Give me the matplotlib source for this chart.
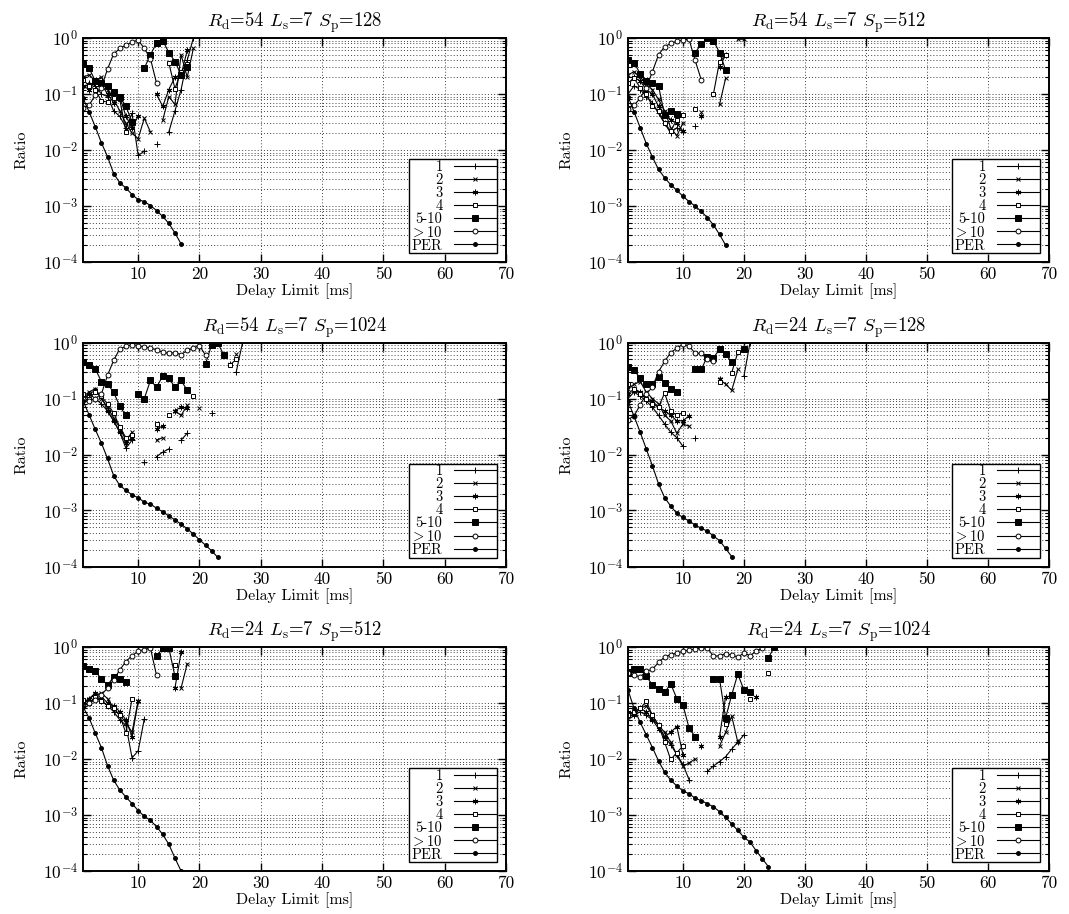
import numpy as np
import matplotlib
matplotlib.use("Agg")
import matplotlib.pyplot as plt

plt.rcParams['font.family'] = 'serif'
plt.rcParams['font.serif'] = ['cmr10']
plt.rcParams['mathtext.fontset'] = 'cm'
plt.rcParams['axes.formatter.use_mathtext'] = True
plt.rcParams['axes.unicode_minus'] = False

N = None

SERIES_LABELS = ["1", "2", "3", "4", "5-10", r"$>$10", "PER"]

TITLES = [
    r"$R_{\mathrm{d}}$=54 $L_{\mathrm{s}}$=7 $S_{\mathrm{p}}$=128",
    r"$R_{\mathrm{d}}$=54 $L_{\mathrm{s}}$=7 $S_{\mathrm{p}}$=512",
    r"$R_{\mathrm{d}}$=54 $L_{\mathrm{s}}$=7 $S_{\mathrm{p}}$=1024",
    r"$R_{\mathrm{d}}$=24 $L_{\mathrm{s}}$=7 $S_{\mathrm{p}}$=128",
    r"$R_{\mathrm{d}}$=24 $L_{\mathrm{s}}$=7 $S_{\mathrm{p}}$=512",
    r"$R_{\mathrm{d}}$=24 $L_{\mathrm{s}}$=7 $S_{\mathrm{p}}$=1024",
]

X_TICKS = [10, 20, 30, 40, 50, 60, 70]

# values for delay limit = 1, 2, 3, ... ms (None = no point)
# Panel 1: Rd=54 Sp=128
P1_1 = [0.12, 0.16, 0.14, 0.10, 0.09, 0.05, 0.04, 0.025, 0.045, 0.008, 0.0095, N, 0.013, N, 0.021, 0.05, 0.12, 0.4, 1.0]
P1_2 = [0.2, 0.22, 0.17, 0.2, 0.12, 0.08, 0.05, 0.03, 0.02, 0.016, 0.037, 0.021, N, 0.034, 0.09, 0.065, 0.5, 0.2, 0.65]
P1_3 = [0.14, 0.12, 0.17, 0.15, 0.10, 0.07, 0.09, 0.04, 0.025, 0.04, N, N, 0.1, 0.06, 0.12, 0.2, 0.22, 0.6]
P1_4 = [0.18, 0.14, 0.12, 0.075, 0.072, 0.085, 0.08, 0.021, 0.03, N, N, N, N, N, 0.36, 0.125, 0.25, 0.35]
P1_5 = [0.34, 0.29, 0.17, 0.16, 0.14, 0.11, 0.09, 0.06, 0.032, N, 0.29, 0.5, 0.82, 0.9, 0.55, 0.38, 0.22, 0.3]
P1_6 = [0.056, 0.063, 0.096, 0.13, 0.28, 0.52, 0.65, 0.75, 0.84, 0.92, 0.65, 0.43, 0.155]
P1_PER = [0.084, 0.048, 0.026, 0.0135, 0.0076, 0.0038, 0.0026, 0.0021, 0.0016, 0.0013, 0.0012, 0.00102, 0.00083, 0.00065, 0.00049, 0.00033, 0.00021]

# Panel 2: Rd=54 Sp=512
P2_1 = [0.1, 0.14, 0.12, 0.09, 0.07, 0.045, 0.03, 0.02, 0.025, 0.021, N, 0.027]
P2_2 = [0.22, 0.25, 0.2, 0.15, 0.12, 0.08, 0.05, 0.025, 0.018, 0.03, N, N, 0.048, N, N, 0.065, 0.19, N, 0.95, 0.95]
P2_3 = [0.15, 0.2, 0.17, 0.12, 0.1, 0.06, 0.045, 0.035, 0.03, 0.022, N, N, 0.04, N, N, 0.3, 0.5]
P2_4 = [0.155, 0.19, 0.13, 0.1, 0.06, 0.05, 0.03, 0.022, 0.035, 0.042, N, 0.055, N, N, 0.1, 0.38, 0.5]
P2_5 = [0.4, 0.36, 0.23, 0.17, 0.16, 0.14, 0.042, 0.05, 0.044, N, N, 0.55, 0.77, 1.0, 0.9, 0.55, 0.27]
P2_6 = [0.055, 0.063, 0.084, 0.13, 0.25, 0.5, 0.7, 0.8, 0.88, 0.92, 0.95, 0.4, 0.18]
P2_PER = [0.09, 0.048, 0.025, 0.013, 0.0075, 0.0045, 0.0032, 0.0024, 0.0019, 0.0015, 0.0012, 0.001, 0.0008, 0.00062, 0.00046, 0.00031, 0.0002]

# Panel 3: Rd=54 Sp=1024
P3_1 = [0.09, 0.12, 0.1, 0.08, 0.06, 0.04, 0.025, 0.013, 0.018, N, 0.0073, N, 0.0092, 0.011, 0.0126, N, 0.018, 0.024, N, N, N, 0.055, N, N, N, 0.3, 0.97]
P3_2 = [0.11, 0.13, 0.15, 0.1, 0.07, 0.045, 0.03, 0.018, 0.025, N, N, N, 0.018, 0.02, N, 0.06, 0.05, 0.075, N, 0.068, N, N, N, N, N, 0.63]
P3_3 = [0.1, 0.12, 0.14, 0.11, 0.06, 0.04, 0.025, 0.016, 0.02, N, N, N, 0.029, 0.032, N, 0.061, 0.07, 0.068, N, N, N, N, N, N, 0.42]
P3_4 = [0.12, 0.1, 0.13, 0.11, 0.08, 0.055, 0.031, 0.02, 0.022, N, N, N, 0.035, N, 0.05, N, N, N, 0.11, N, N, N, N, N, 0.4, 0.5]
P3_5 = [0.44, 0.39, 0.34, 0.2, 0.18, 0.13, 0.072, 0.05, N, 0.12, 0.1, 0.21, 0.16, 0.25, 0.23, 0.16, 0.21, 0.14, N, N, 0.42, 0.92, 0.97, 0.59]
P3_6 = [0.1, 0.09, 0.1, 0.12, 0.26, 0.48, 0.77, 0.85, 0.92, 0.88, 0.83, 0.8, 0.74, 0.67, 0.64, 0.66, 0.61, 0.72, 0.8, 0.88, 0.59]
P3_PER = [0.092, 0.051, 0.028, 0.016, 0.0085, 0.0042, 0.0028, 0.0023, 0.0019, 0.0017, 0.0014, 0.0013, 0.0011, 0.00095, 0.0008, 0.00068, 0.00057, 0.00047, 0.00038, 0.0003, 0.00024, 0.00019, 0.000145]

# Panel 4: Rd=24 Sp=128
P4_1 = [0.1, 0.13, 0.11, 0.09, 0.07, 0.05, 0.035, 0.025, 0.02, 0.014, N, 0.02, N, N, N, N, N, N, N, 0.25, 1.0]
P4_2 = [0.15, 0.18, 0.2, 0.13, 0.1, 0.08, 0.05, 0.04, 0.024, 0.035, 0.032, N, N, N, N, 0.22, 0.18, 0.14, 0.33]
P4_3 = [0.12, 0.15, 0.13, 0.1, 0.09, 0.07, 0.06, 0.05, 0.04, 0.04, 0.049, N, N, N, N, 0.22, N, N, N, 0.76]
P4_4 = [0.18, 0.15, 0.12, 0.1, 0.08, 0.07, 0.125, 0.06, 0.05, 0.056, N, N, N, N, N, 0.2, N, 0.29, 0.67]
P4_5 = [0.37, 0.32, 0.23, 0.18, 0.18, 0.24, 0.19, 0.15, 0.13, N, N, 0.33, 0.33, 0.56, 0.53, 0.76, 0.62, 0.44, N, 0.76]
P4_6 = [0.042, 0.049, 0.077, 0.12, 0.16, 0.3, 0.46, 0.66, 0.79, 0.93, 0.87, 0.64, 0.64, 0.5, 0.46]
P4_PER = [0.089, 0.048, 0.025, 0.0125, 0.0063, 0.003, 0.0017, 0.0012, 0.00089, 0.00075, 0.00065, 0.00055, 0.00048, 0.00043, 0.00035, 0.00029, 0.00021, 0.00015]

# Panel 5: Rd=24 Sp=512
P5_1 = [0.09, 0.1, 0.12, 0.11, 0.09, 0.07, 0.05, 0.04, 0.0105, 0.014, 0.052]
P5_2 = [0.1, 0.12, 0.14, 0.15, 0.12, 0.08, 0.06, 0.045, 0.03, 0.11, N, N, N, N, N, N, 0.185, 0.5]
P5_3 = [0.1, 0.12, 0.15, 0.13, 0.1, 0.09, 0.07, 0.05, 0.025, 0.107, N, N, N, N, N, 0.185, 0.8]
P5_4 = [0.115, 0.1, 0.13, 0.11, 0.09, 0.08, 0.06, 0.029, 0.12, N, N, N, N, N, N, 0.48]
P5_5 = [0.45, 0.4, 0.37, 0.27, 0.21, 0.29, 0.27, 0.24, N, N, N, N, 0.68, 0.96, 0.96, 0.3]
P5_6 = [0.09, 0.1, 0.115, 0.14, 0.185, 0.26, 0.39, 0.55, 0.7, 0.84, 0.9, 0.96, 0.31]
P5_PER = [0.085, 0.054, 0.029, 0.016, 0.0076, 0.0042, 0.0028, 0.0021, 0.0016, 0.0012, 0.00095, 0.0008, 0.00062, 0.00045, 0.0003, 0.00017, 0.0001]

# Panel 6: Rd=24 Sp=1024
P6_1 = [0.05, 0.06, 0.07, 0.06, 0.05, 0.04, 0.025, 0.018, 0.012, 0.008, 0.0043, N, N, 0.006, 0.0075, 0.009, 0.011, 0.015, 0.02, 0.027]
P6_2 = [0.06, 0.07, 0.08, 0.09, 0.06, 0.04, 0.03, 0.02, 0.012, 0.0074, 0.0085, 0.01, N, N, N, 0.017, 0.03, 0.058, 0.02, N, N, N, N, N, 0.96]
P6_3 = [0.07, 0.06, 0.08, 0.07, 0.05, 0.035, 0.025, 0.03, 0.038, 0.012, N, N, 0.017, N, N, 0.025, 0.13, N, N, N, N, 0.13]
P6_4 = [0.062, 0.07, 0.08, 0.107, 0.06, 0.04, 0.02, 0.0098, 0.013, 0.017, N, N, N, N, N, N, 0.043, N, N, N, 0.12, N, N, 0.34]
P6_5 = [0.34, 0.4, 0.4, 0.3, 0.21, 0.18, 0.155, 0.22, 0.12, 0.093, 0.036, 0.025, N, N, 0.27, 0.27, 0.054, 0.14, 0.33, 0.17, 0.155, N, N, 0.64, 1.0]
P6_6 = [0.34, 0.32, 0.29, 0.37, 0.4, 0.53, 0.66, 0.73, 0.78, 0.84, 0.88, 0.92, 0.95, 0.97, 0.68, 0.7, 0.76, 0.72, 0.66, 0.78, 0.7, 0.84, 0.97]
P6_PER = [0.17, 0.08, 0.045, 0.027, 0.016, 0.0093, 0.0058, 0.0042, 0.0033, 0.0027, 0.0024, 0.002, 0.0018, 0.0016, 0.0014, 0.00115, 0.00091, 0.00069, 0.00053, 0.0004, 0.00033, 0.00023, 0.000166, 0.00012]

PANELS = [
    [P1_1, P1_2, P1_3, P1_4, P1_5, P1_6, P1_PER],
    [P2_1, P2_2, P2_3, P2_4, P2_5, P2_6, P2_PER],
    [P3_1, P3_2, P3_3, P3_4, P3_5, P3_6, P3_PER],
    [P4_1, P4_2, P4_3, P4_4, P4_5, P4_6, P4_PER],
    [P5_1, P5_2, P5_3, P5_4, P5_5, P5_6, P5_PER],
    [P6_1, P6_2, P6_3, P6_4, P6_5, P6_6, P6_PER],
]

STYLES = [
    dict(marker='+', ms=4, mfc='black', mew=0.7),
    dict(marker='x', ms=3.5, mfc='black', mew=0.7),
    dict(marker=(6, 2, 0), ms=4, mfc='black', mew=0.7),
    dict(marker='s', ms=3.5, mfc='white', mew=0.7),
    dict(marker='s', ms=4.5, mfc='black', mew=0.7),
    dict(marker='o', ms=3.5, mfc='white', mew=0.7),
    dict(marker='o', ms=2.8, mfc='black', mew=0.7),
]

W, H = 1069, 914
fig = plt.figure(figsize=(W / 100, H / 100), dpi=100)

col_left = [83, 628]
col_w = [423, 421]
row_top = [38, 342.5, 647]
ax_h = 224

for i, series in enumerate(PANELS):
    r, c = divmod(i, 2)
    ax = fig.add_axes([col_left[c] / W, 1 - (row_top[r] + ax_h) / H, col_w[c] / W, ax_h / H])
    for lab, vals, st in zip(SERIES_LABELS, series, STYLES):
        y = np.array([np.nan if v is None else v for v in vals], dtype=float)
        x = np.arange(1, len(y) + 1)
        ax.plot(x, y, color='black', lw=0.8, mec='black', label=lab, **st)
    ax.set_yscale('log')
    ax.set_xlim(1, 70)
    ax.set_ylim(1e-4, 1)
    ax.set_xticks(X_TICKS)
    ax.set_xticklabels([str(t) for t in X_TICKS])
    ax.set_yticks([1e-4, 1e-3, 1e-2, 1e-1, 1])
    ax.grid(True, which='major', axis='both', color='0.25', lw=0.7, ls=(0, (1, 2.2)))
    ax.grid(True, which='minor', axis='y', color='0.25', lw=0.7, ls=(0, (1, 2.2)))
    ax.tick_params(which='both', direction='in', top=True, right=True, labelsize=12.5)
    ax.tick_params(which='major', length=6, width=1)
    ax.tick_params(which='minor', length=3, width=0.8)
    for sp in ax.spines.values():
        sp.set_linewidth(1.4)
    ax.set_title(TITLES[i], fontsize=13.5, pad=8)
    ax.set_xlabel("Delay Limit [ms]", fontsize=11.5, labelpad=1)
    ax.set_ylabel("Ratio", fontsize=11.5, labelpad=10)
    leg = ax.legend(loc='lower right', markerfirst=False, fontsize=10.5, labelspacing=-0.05,
                    handlelength=2.9, handletextpad=0.8, borderpad=0.05, borderaxespad=0.6,
                    fancybox=False, framealpha=1, edgecolor='black', numpoints=1)
    leg.get_frame().set_linewidth(1.0)

fig.savefig("out.png", dpi=100)
